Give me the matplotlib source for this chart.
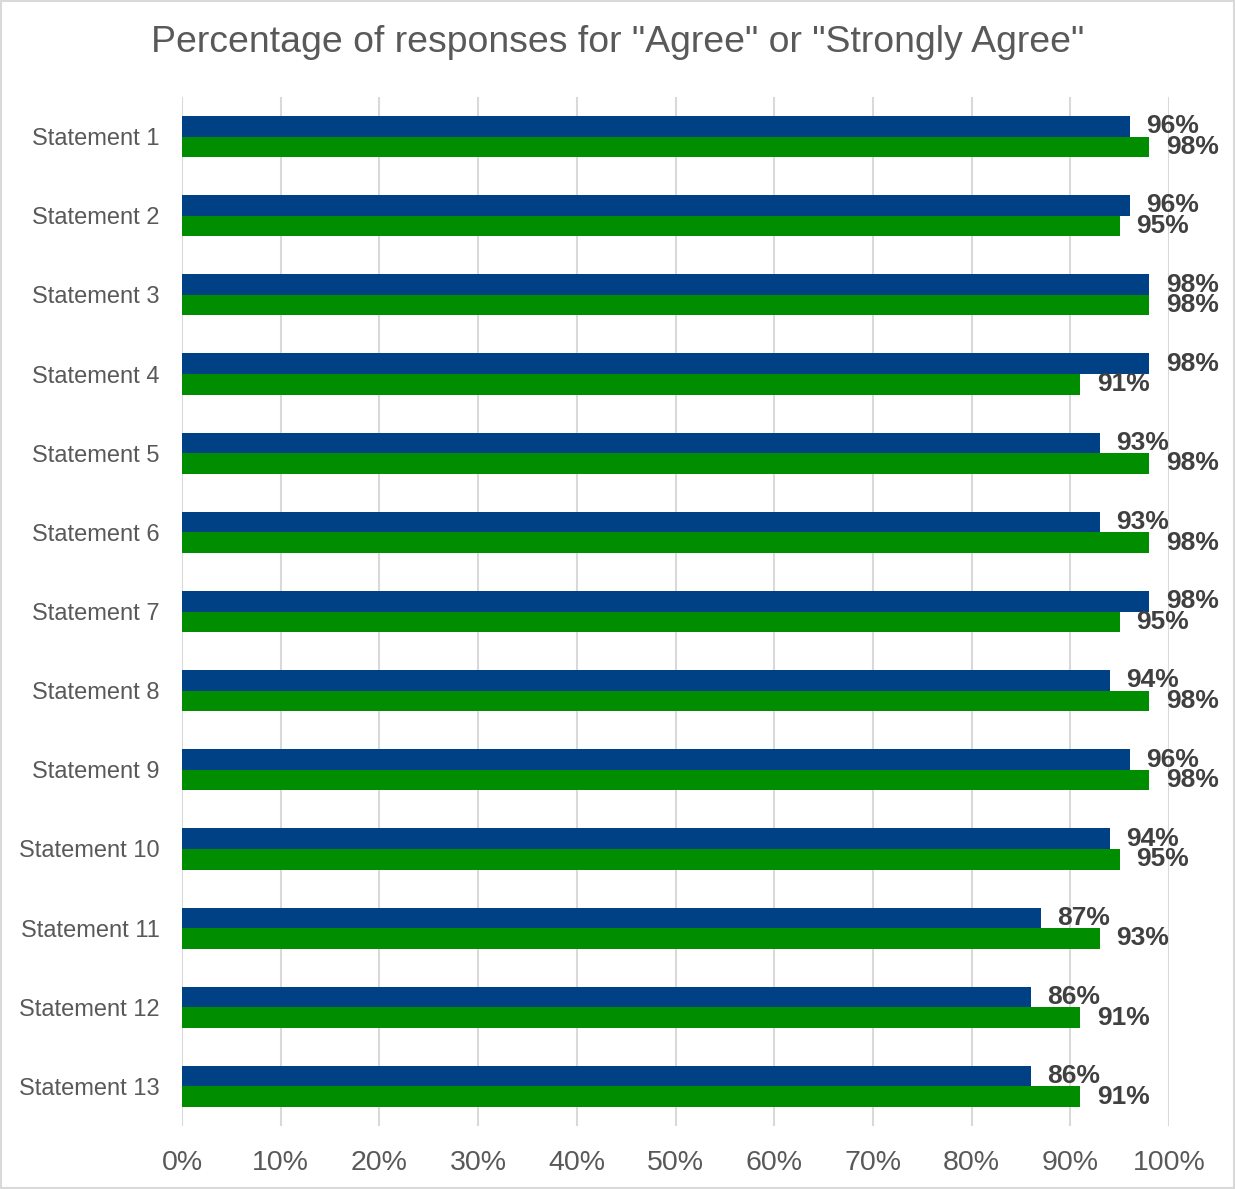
import matplotlib
matplotlib.use("Agg")
import matplotlib.pyplot as plt
import numpy as np
from matplotlib.patches import Rectangle

plt.rcParams['font.family'] = ['Liberation Sans', 'DejaVu Sans']

categories = [f"Statement {i}" for i in range(1, 14)]
series_blue = [96, 96, 98, 98, 93, 93, 98, 94, 96, 94, 87, 86, 86]
series_green = [98, 95, 98, 91, 98, 98, 95, 98, 98, 95, 93, 91, 91]
xticks = [0, 10, 20, 30, 40, 50, 60, 70, 80, 90, 100]
title = 'Percentage of responses for "Agree" or "Strongly Agree"'

fig = plt.figure(figsize=(12.35, 11.89), dpi=100)
ax = fig.add_axes([182/1235, 63/1189, (1169-182)/1235, (1126-97)/1189])

y = np.arange(len(categories))
h = 0.26
b1 = ax.barh(y - h/2, series_blue, height=h, color="#004084", zorder=3)
b2 = ax.barh(y + h/2, series_green, height=h, color="#008E00", zorder=3)

for bars in (b1, b2):
    ax.bar_label(bars, labels=[f"{v}%" for v in bars.datavalues], padding=12,
                 fontsize=19, fontweight="bold", color="#404040")

ax.set_ylim(len(categories) - 0.5, -0.5)
ax.set_xlim(0, 100)
ax.set_yticks(y)
ax.set_yticklabels(categories, fontsize=17, color="#595959")
ax.set_xticks(xticks)
ax.set_xticklabels([f"{t}%" for t in xticks], fontsize=20.5, color="#595959")
ax.tick_params(axis="both", length=0)
ax.tick_params(axis="y", pad=16)
ax.tick_params(axis="x", pad=17)
for s in ax.spines.values():
    s.set_visible(False)
ax.grid(axis="x", color="#d9d9d9", linewidth=1.5, zorder=0)
ax.set_axisbelow(True)

fig.text(0.5, 1 - 43/1189, title, ha="center", va="center", fontsize=26.9, color="#595959")

fig.patches.append(Rectangle((0.001, 0.001), 0.998, 0.998, transform=fig.transFigure,
                             fill=False, edgecolor="#d9d9d9", linewidth=1.5))

fig.savefig("out.png", dpi=100)
